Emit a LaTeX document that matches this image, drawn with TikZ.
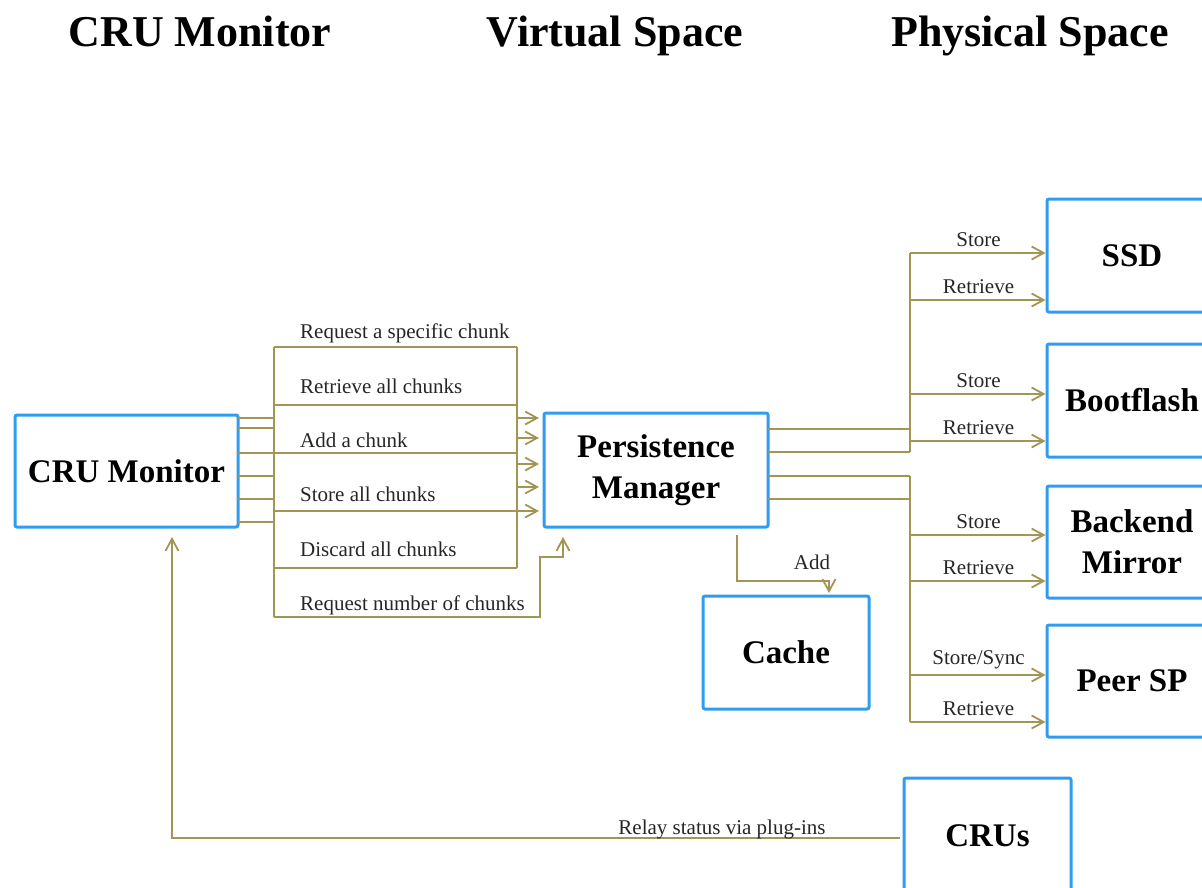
\documentclass[tikz,border=0pt]{standalone}
\usepackage{fontspec}
\setmainfont{Liberation Serif}
\usetikzlibrary{arrows.meta,calc}
\definecolor{boxblue}{HTML}{2F9CF0}
\definecolor{wirecol}{HTML}{A39554}
\begin{document}
\begin{tikzpicture}[x=1pt,y=-1pt,
  unit/.style={draw=boxblue, line width=3pt, rounded corners=2pt, inner sep=0pt,
    outer sep=0pt, align=center, font=\fontsize{33}{41}\selectfont\bfseries},
  heading/.style={font=\fontsize{44}{50}\selectfont\bfseries, inner sep=0pt, anchor=base},
  wire/.style={draw=wirecol, line width=1.8pt},
  flow/.style={wire, -{Straight Barb[length=12pt,width=13pt]}},
  lab/.style={font=\fontsize{21}{24}\selectfont, inner sep=0pt, text=black!85}]
\useasboundingbox (0,0) rectangle (1202,888);
\clip (0,0) rectangle (1202,888);

% column headings
\node[heading] (h1) at (200,47) {CRU Monitor};
\node[heading] (h2) at (615,47) {Virtual Space};
\node[heading] (h3) at (1030,47) {Physical Space};

% components
\node[unit, minimum width=223pt, minimum height=112pt] (cm) at (126.5,471) {CRU Monitor};
\node[unit, minimum width=224pt, minimum height=114pt] (pm) at (656,470) {Persistence\\Manager};
\node[unit, minimum width=166pt, minimum height=113pt] (cache) at (786,652.5) {Cache};
\node[unit, minimum width=170pt, minimum height=113pt] (ssd) at (1132,255.5) {SSD};
\node[unit, minimum width=170pt, minimum height=113pt] (boot) at (1132,400.5) {Bootflash};
\node[unit, minimum width=170pt, minimum height=112pt] (back) at (1132,542) {Backend\\Mirror};
\node[unit, minimum width=170pt, minimum height=112pt] (peer) at (1132,681) {Peer SP};
\node[unit, minimum width=167pt, minimum height=115pt] (crus) at (987.5,835.5) {CRUs};

% request bus between the monitor and the persistence manager
\coordinate (lt) at (274,347);
\coordinate (lb) at (274,617);
\coordinate (rt) at (517,347);
\coordinate (rb) at (517,568);
\draw[wire] (lt) -- (lb);
\draw[wire] (rt) -- (rb);
\foreach \yy in {418,428,476,499,522}
  \draw[wire] (cm.east |- 0,\yy) -- (lt |- 0,\yy);
\draw[wire] (cm.east |- 0,453) -- (rt |- 0,453);
\foreach \yy in {347,405,511,568}
  \draw[wire] (lt |- 0,\yy) -- (rt |- 0,\yy);
\foreach \yy in {418,438,464,487,511}
  \draw[flow, shorten >=5pt] (rt |- 0,\yy) -- (pm.west |- 0,\yy);
\draw[flow] (lb) -- (540,617) -- (540,557) -| ($(pm.south west)+(19,10)$);

\node[lab, anchor=base west] (l1) at (300,338) {Request a specific chunk};
\node[lab, anchor=base west] (l2) at (300,393) {Retrieve all chunks};
\node[lab, anchor=base west] (l3) at (300,447) {Add a chunk};
\node[lab, anchor=base west] (l4) at (300,501) {Store all chunks};
\node[lab, anchor=base west] (l5) at (300,556) {Discard all chunks};
\node[lab, anchor=base west] (l6) at (300,610) {Request number of chunks};

% cache update
\draw[flow, shorten >=3pt] ($(pm.south west)+(193,8)$) |- ($(cache.north)+(43,-15)$)
  -- ($(cache.north)+(43,0)$);
\node[lab, anchor=base] (addl) at (812,569) {Add};

% storage fan-out
\coordinate (at) at (910,253);
\coordinate (ab) at (910,452);
\coordinate (bt) at (910,476);
\coordinate (bb) at (910,722);
\draw[wire] (at) -- (ab);
\draw[wire] (bt) -- (bb);
\draw[wire] (pm.east |- 0,429) -- (at |- 0,429);
\draw[wire] (pm.east |- 0,452) -- (ab);
\draw[wire] (pm.east |- 0,476) -- (bt);
\draw[wire] (pm.east |- 0,499) -- (bt |- 0,499);

\draw[flow, shorten >=1.5pt] (at) -- node[lab, above=5pt] {Store} (ssd.west |- at);
\draw[flow, shorten >=1.5pt] (at |- 0,300) -- node[lab, above=5pt] {Retrieve} (ssd.west |- 0,300);
\draw[flow, shorten >=1.5pt] (at |- 0,394) -- node[lab, above=5pt] {Store} (boot.west |- 0,394);
\draw[flow, shorten >=1.5pt] (at |- 0,441) -- node[lab, above=5pt] {Retrieve} (boot.west |- 0,441);
\draw[flow, shorten >=1.5pt] (bt |- 0,535) -- node[lab, above=5pt] {Store} (back.west |- 0,535);
\draw[flow, shorten >=1.5pt] (bt |- 0,581) -- node[lab, above=5pt] {Retrieve} (back.west |- 0,581);
\draw[flow, shorten >=1.5pt] (bt |- 0,675) -- node[lab, above=5pt] {Store/Sync} (peer.west |- 0,675);
\draw[flow, shorten >=1.5pt] (bb) -- node[lab, above=5pt] {Retrieve} (peer.west |- bb);

% status relay back to the monitor
\draw[flow, shorten <=4pt] (crus.west |- 0,838) -| ($(cm.south west)+(157,10)$);
\node[lab, anchor=base] (relay) at (722,834) {Relay status via plug-ins};
\end{tikzpicture}
\end{document}
